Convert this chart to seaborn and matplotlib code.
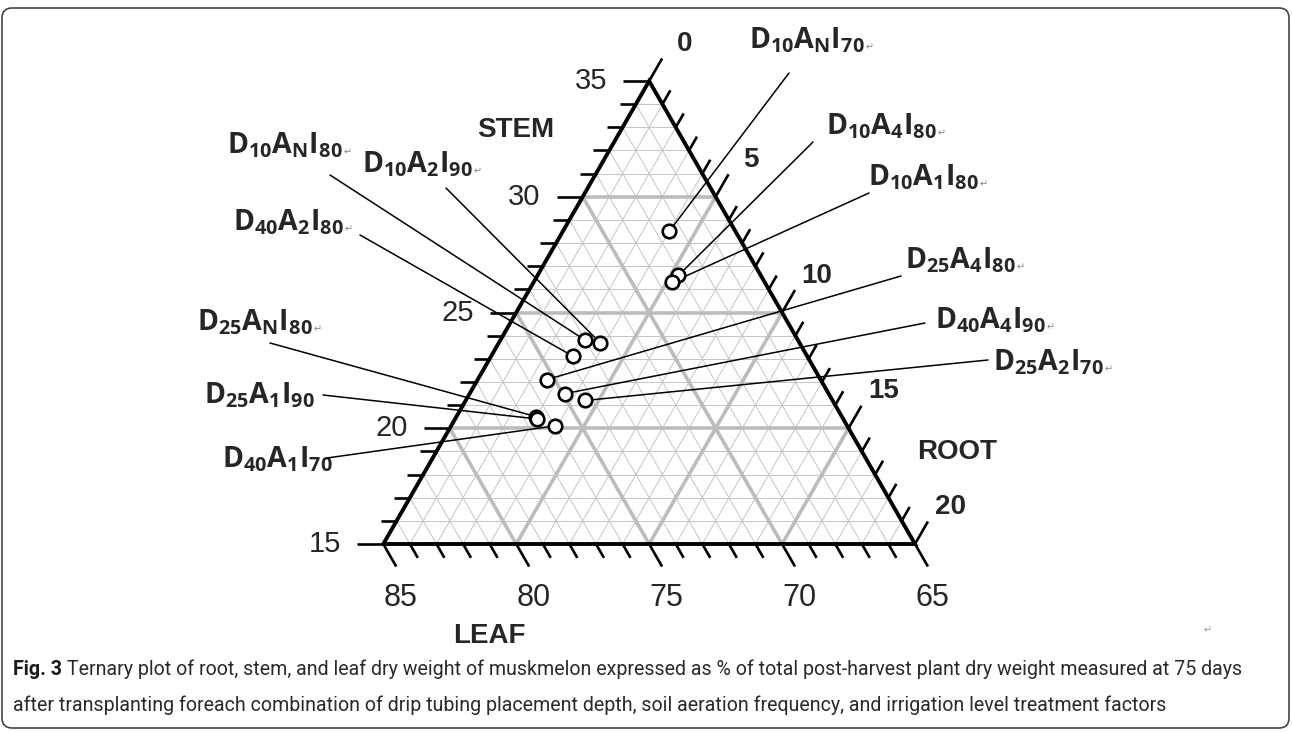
import numpy as np
import pandas as pd
import matplotlib
matplotlib.use('Agg')
import matplotlib.pyplot as plt
import matplotlib.patches as mpatches
from matplotlib.transforms import IdentityTransform
from matplotlib.collections import LineCollection
import seaborn as sns

# treatments (depth / aeration / irrigation) and dry weight split in % of total
treatments = [r'D_{10}A_{N}I_{70}', r'D_{10}A_{4}I_{80}', r'D_{10}A_{1}I_{80}',
              r'D_{10}A_{N}I_{80}', r'D_{10}A_{2}I_{90}', r'D_{40}A_{2}I_{80}',
              r'D_{25}A_{4}I_{80}', r'D_{40}A_{4}I_{90}', r'D_{25}A_{2}I_{70}',
              r'D_{25}A_{N}I_{80}', r'D_{25}A_{1}I_{90}', r'D_{40}A_{1}I_{70}']
root_pct = [4.0, 5.3, 5.2, 3.2, 3.8, 3.1, 2.6, 3.6, 4.5, 3.0, 3.1, 3.9]
stem_pct = [28.5, 26.6, 26.3, 23.8, 23.7, 23.1, 22.1, 21.5, 21.2, 20.5, 20.4, 20.1]
leaf_pct = [67.5, 68.1, 68.5, 73.0, 72.5, 73.8, 75.3, 74.9, 74.3, 76.5, 76.5, 76.0]

stem_ticks = [15, 20, 25, 30, 35]
root_ticks = [0, 5, 10, 15, 20]
leaf_ticks = [85, 80, 75, 70, 65]

caption_bold = 'Fig. 3'
caption_1 = (' Ternary plot of root, stem, and leaf dry weight of muskmelon expressed as % '
             'of total post-harvest plant dry weight measured at 75 days')
caption_2 = ('after transplanting foreach combination of drip tubing placement depth, soil '
             'aeration frequency, and irrigation level treatment factors')

ROOT_MIN, STEM_MIN, SPAN = 0, 15, 20
EDGE_SUM = ROOT_MIN + STEM_MIN + SPAN  # root + stem on the right edge

# layout (pixels, origin top-left)
W, H = 1292, 732
BL_X, BL_Y = 383.3, 544.0
UX, UY = 531.7, 534.6

# label placement: (text left, text baseline, leader start)
label_pos = [(749, 48, 789, 73), (826, 134, 813, 142), (868, 185, 869, 193),
             (227, 153, 330, 175), (362, 172, 446, 188), (233, 230, 360, 235),
             (905, 268, 901, 276), (935, 328, 925, 323), (993, 370, 988, 360),
             (197, 330, 270, 343), (204, 403, 323, 395), (222, 467, 327, 458)]
return_mark = [True, True, True, True, True, True, True, True, True, True, False, False]


def tern(root, stem):
    a = (np.asarray(root, float) - ROOT_MIN) / SPAN
    b = (np.asarray(stem, float) - STEM_MIN) / SPAN
    return a + 0.5 * b, b * np.sqrt(3) / 2


def fp(px, py):
    return (px, H - py)


sns.set_theme(style='white')
plt.rcParams['font.family'] = ['Liberation Sans', 'DejaVu Sans']
plt.rcParams['mathtext.fontset'] = 'custom'
plt.rcParams['mathtext.rm'] = 'Open Sans:bold'
plt.rcParams['mathtext.it'] = 'Open Sans:bold'
plt.rcParams['mathtext.bf'] = 'Open Sans:bold'
plt.rcParams['mathtext.default'] = 'rm'

fig = plt.figure(figsize=(W / 100, H / 100), dpi=100)
fig.patch.set_facecolor('white')
ax = fig.add_axes([0, 0, 1, 1])
ax.set_xlim(-BL_X / UX, (W - BL_X) / UX)
ax.set_ylim(-(H - BL_Y) / UY, BL_Y / UY)
ax.axis('off')

# grid
minor, major = [], []
for v in range(1, SPAN):
    s = STEM_MIN + v
    r = ROOT_MIN + v
    c = ROOT_MIN + STEM_MIN + v
    lines = [
        (tern(ROOT_MIN, s), tern(EDGE_SUM - s, s)),
        (tern(r, STEM_MIN), tern(r, EDGE_SUM - r)),
        (tern(c - STEM_MIN, STEM_MIN), tern(ROOT_MIN, c)),
    ]
    segs = [[tuple(map(float, p)), tuple(map(float, q))] for p, q in lines]
    (major if v % 5 == 0 else minor).extend(segs)
ax.add_collection(LineCollection(minor, colors='#c4c4c4', linewidths=0.7, zorder=1))
ax.add_collection(LineCollection(major, colors='#bcbcbc', linewidths=2.6, zorder=2))

# triangle
cx, cy = tern([ROOT_MIN, SPAN, ROOT_MIN, ROOT_MIN], [STEM_MIN, STEM_MIN, STEM_MIN + SPAN, STEM_MIN])
ax.plot(cx, cy, color='black', lw=2.8, solid_joinstyle='miter', zorder=4)

# ticks
ticks = []
for v in range(0, SPAN + 1):
    L = 26 if v % 5 == 0 else 16
    x, y = tern(ROOT_MIN, STEM_MIN + v)
    ticks.append([(float(x), float(y)), (float(x) - L / UX, float(y))])
    x, y = tern(ROOT_MIN + v, EDGE_SUM - ROOT_MIN - v)
    ticks.append([(float(x), float(y)), (float(x) + 0.5 * L / UY, float(y) + 0.866 * L / UY)])
    x, y = tern(ROOT_MIN + v, STEM_MIN)
    ticks.append([(float(x), float(y)), (float(x) + 0.5 * L / UY, float(y) - 0.866 * L / UY)])
ax.add_collection(LineCollection(ticks, colors='black', linewidths=1.9, zorder=4))

for s in stem_ticks:
    ax.annotate(str(s), xy=tern(ROOT_MIN, s), xytext=(-42, 0), textcoords='offset pixels',
                ha='right', va='center', fontsize=21)
for r in root_ticks:
    ax.annotate(str(r), xy=tern(r, EDGE_SUM - r), xytext=(35, 37), textcoords='offset pixels',
                ha='center', va='center', fontsize=20, fontweight='bold')
for lf in leaf_ticks:
    ax.annotate(str(lf), xy=tern(100 - lf - STEM_MIN, STEM_MIN), xytext=(17, -54),
                textcoords='offset pixels', ha='center', va='center', fontsize=22)

for name, (px, py) in zip(['STEM', 'ROOT', 'LEAF'], [(516, 130), (957, 452), (489, 636)]):
    ax.annotate(name, xy=fp(px, py), xycoords='figure pixels', ha='center', va='center',
                fontsize=20, fontweight='bold')

# points
df = pd.DataFrame({'treatment': treatments, 'root': root_pct, 'stem': stem_pct, 'leaf': leaf_pct})
df['x'], df['y'] = tern(df['root'], df['stem'])
sns.scatterplot(data=df, x='x', y='y', s=95, color='white', edgecolor='black',
                linewidth=1.9, zorder=6, ax=ax, legend=False)

for i, row in df.iterrows():
    tx, ty, lx, ly = label_pos[i]
    ax.annotate('', xy=(row['x'], row['y']), xycoords='data', xytext=fp(lx, ly),
                textcoords='figure pixels',
                arrowprops=dict(arrowstyle='-', color='black', lw=1.1, shrinkA=0, shrinkB=5.5),
                zorder=5)
    t = ax.annotate('$' + row['treatment'] + '$', xy=fp(tx, ty), xycoords='figure pixels',
                    ha='left', va='baseline', fontsize=20.5)
    if return_mark[i]:
        ax.annotate('\u21b5', xy=(1, 0), xycoords=t, xytext=(1, 3), textcoords='offset pixels',
                    ha='left', va='bottom', fontsize=7, color='#888888', family='DejaVu Sans')

ax.annotate('\u21b5', xy=fp(1208, 630), xycoords='figure pixels', ha='center', va='center',
            fontsize=7, color='#999999', family='DejaVu Sans')

# caption
cap_font = ['Roboto', 'DejaVu Sans']
fs = 14
c0 = fig.text(13 / W, 1 - 675 / H, caption_bold, fontsize=fs, fontweight='bold',
              family=cap_font, va='baseline', color='#1a1a1a')
c1 = ax.annotate(caption_1, xy=(1, 1 - 675 / H), xycoords=(c0, 'figure fraction'),
                 fontsize=fs, family=cap_font, va='baseline', color='#2a2a2a')
c2 = fig.text(13 / W, 1 - 711 / H, caption_2, fontsize=fs, family=cap_font,
              va='baseline', color='#2a2a2a')
fig.canvas.draw()
rend = fig.canvas.get_renderer()
width = c0.get_window_extent(rend).width + c1.get_window_extent(rend).width
scale = 1240 / width
for c in (c0, c1, c2):
    c.set_fontsize(fs * scale)

# frame around figure
fig.add_artist(mpatches.FancyBboxPatch((2, 4), W - 5, H - 12,
                                       boxstyle='round,pad=0,rounding_size=10',
                                       transform=IdentityTransform(), fill=False,
                                       edgecolor='#444444', lw=1.2))

fig.savefig('out.png', dpi=100)
